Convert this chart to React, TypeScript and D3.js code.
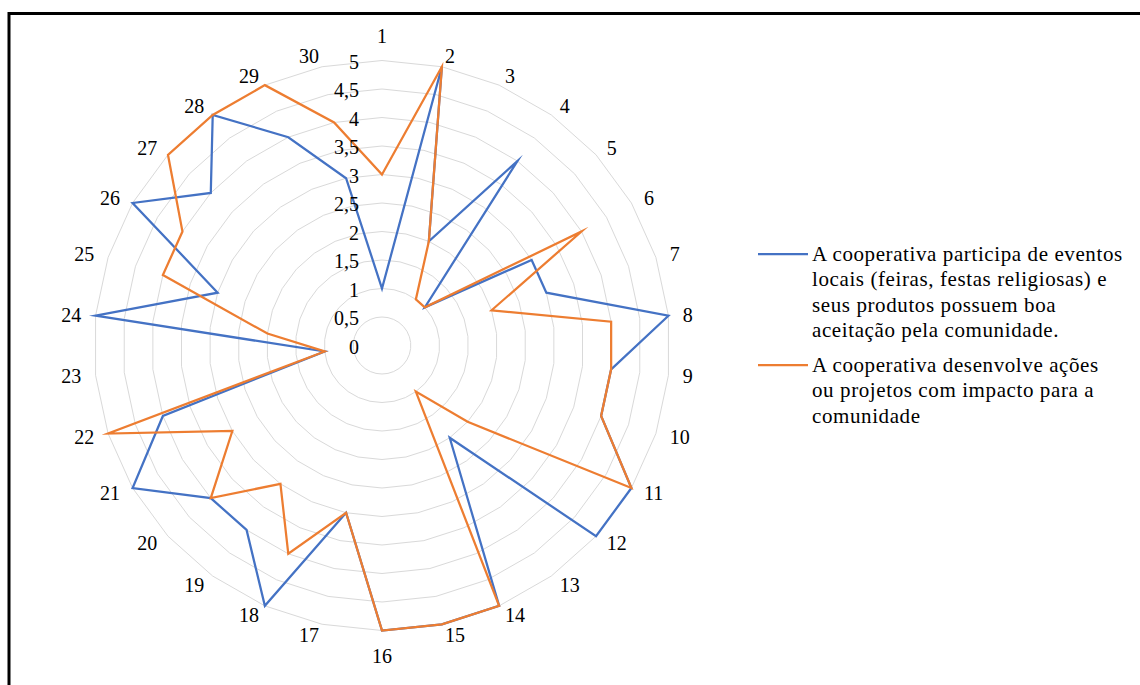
import React from "react";
import * as d3 from "d3";

// Item numbers around the radar (one spoke per item)
const categories = [
  "1", "2", "3", "4", "5", "6", "7", "8", "9", "10",
  "11", "12", "13", "14", "15", "16", "17", "18", "19", "20",
  "21", "22", "23", "24", "25", "26", "27", "28", "29", "30",
];

// Scores (1–5 scale) per item
const eventosValues = [1, 5, 2, 4, 1, 3, 3, 5, 4, 4, 5, 5, 2, 5, 5, 5, 3, 5, 4, 4, 5, 4, 1, 5, 3, 5, 4, 5, 4, 3];
const acoesValues = [3, 5, 2, 1, 1, 4, 2, 4, 4, 4, 5, 2, 1, 5, 5, 5, 3, 4, 3, 4, 3, 5, 1, 2, 4, 4, 5, 5, 5, 4];

// Radial axis ticks
const tickValues = [0, 0.5, 1, 1.5, 2, 2.5, 3, 3.5, 4, 4.5, 5];

const seriesNames = [
  ["A cooperativa participa de eventos", "locais (feiras, festas religiosas) e", "seus produtos possuem boa", "aceitação pela comunidade."],
  ["A cooperativa desenvolve ações", "ou projetos com impacto para a", "comunidade"],
];

const W = 1140;
const H = 685;
const CX = 382;
const CY = 345.5;
const RX = 288; // horizontal radius of the value-5 ring
const RY = 285; // vertical radius of the value-5 ring
const FONT = "'Liberation Serif', 'Times New Roman', serif";
const COLORS = ["#4472C4", "#ED7D31"];

export default function App() {
  const rx = d3.scaleLinear().domain([0, 5]).range([0, RX]);
  const ry = d3.scaleLinear().domain([0, 5]).range([0, RY]);
  const angle = d3
    .scaleLinear()
    .domain([0, categories.length])
    .range([0, 2 * Math.PI]);
  const fmt = d3.formatLocale({ decimal: ",", thousands: ".", grouping: [3], currency: ["", ""] }).format("~g");

  const polygon = d3
    .line<number>()
    .x((v, i) => rx(v) * Math.sin(angle(i)))
    .y((v, i) => -ry(v) * Math.cos(angle(i)))
    .curve(d3.curveLinearClosed);

  const ringPath = (v: number) => polygon(categories.map(() => v)) || "";
  const series = [eventosValues, acoesValues];

  // category label placement: text starts/ends at an outer ellipse
  const LX = 302.5;
  const LY = 295.5;
  const LV = 310;

  return (
    <svg
      width={W}
      height={H}
      style={{ position: "absolute", left: 0, top: 0, background: "#fff" }}
      fontFamily={FONT}
    >
      <rect x={0} y={0} width={W} height={H} fill="#fff" />
      <rect x={9} y={13.5} width={W + 50} height={H + 50} fill="none" stroke="#000" strokeWidth={3} />

      <g transform={`translate(${CX},${CY})`}>
        {tickValues
          .filter((v) => v > 0)
          .map((v) => (
            <path key={v} d={ringPath(v)} fill="none" stroke="#D9D9D9" strokeWidth={1} />
          ))}

        {series.map((vals, si) => (
          <path
            key={si}
            d={polygon(vals) || ""}
            fill="none"
            stroke={COLORS[si]}
            strokeWidth={2.25}
            strokeLinejoin="miter"
            strokeMiterlimit={10}
          />
        ))}

        {tickValues.map((v) => (
          <text
            key={v}
            x={-23}
            y={-ry(v) + 1}
            textAnchor="end"
            dominantBaseline="central"
            fontSize={20}
            fill="#000"
          >
            {fmt(v)}
          </text>
        ))}

        {categories.map((c, i) => {
          const a = angle(i);
          const s = Math.sin(a);
          const co = Math.cos(a);
          const vertical = Math.abs(s) < 1e-6;
          const x = vertical ? 0 : LX * s;
          const y = vertical ? -LV * Math.sign(co) : -LY * co;
          const anchor = vertical ? "middle" : s > 0 ? "start" : "end";
          return (
            <text
              key={c}
              x={x}
              y={y}
              textAnchor={anchor}
              dominantBaseline="central"
              fontSize={20}
              fill="#000"
            >
              {c}
            </text>
          );
        })}
      </g>

      <g transform="translate(758,0)">
        {seriesNames.map((lines, si) => {
          const top = si === 0 ? 254 : 365;
          return (
            <g key={si}>
              <line x1={0} x2={50} y1={top} y2={top} stroke={COLORS[si]} strokeWidth={2.25} />
              {lines.map((t, li) => (
                <text
                  key={li}
                  x={54}
                  y={top + li * 25.3}
                  dominantBaseline="central"
                  fontSize={21}
                  letterSpacing={0.6}
                  fill="#000"
                >
                  {t}
                </text>
              ))}
            </g>
          );
        })}
      </g>
    </svg>
  );
}
